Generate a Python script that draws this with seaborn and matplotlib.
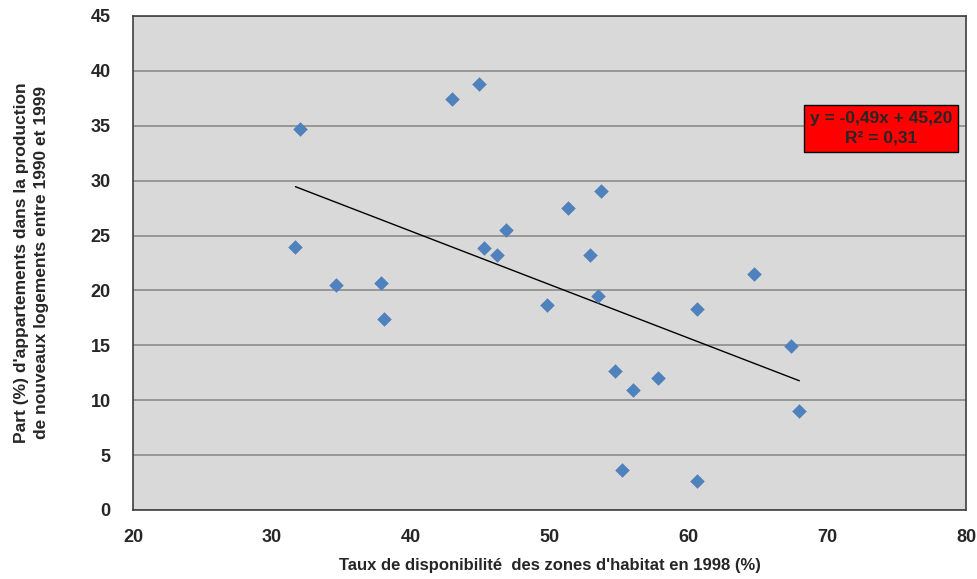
import numpy as np
import pandas as pd
import seaborn as sns
import matplotlib.pyplot as plt

# Taux de disponibilité (%) et part d'appartements (%)
taux_dispo = [31.7, 32.0, 34.6, 37.9, 38.1, 43.0, 44.9, 45.3, 46.2, 46.9, 49.8,
              51.3, 52.9, 53.5, 53.7, 54.7, 55.2, 56.0, 57.8, 60.6, 60.6, 64.7,
              67.4, 68.0]
part_appart = [24.0, 34.7, 20.5, 20.7, 17.4, 37.4, 38.8, 23.9, 23.2, 25.5, 18.7,
               27.5, 23.2, 19.5, 29.1, 12.7, 3.6, 10.9, 12.0, 18.3, 2.6, 21.5,
               14.9, 9.0]
x_ticks = [20, 30, 40, 50, 60, 70, 80]
y_ticks = [0, 5, 10, 15, 20, 25, 30, 35, 40, 45]
equation = "y = -0,49x + 45,20\nR² = 0,31"

df = pd.DataFrame({"Taux": taux_dispo, "Part": part_appart})

sns.set_style("white")
plt.rcParams['font.family'] = ['Liberation Sans Narrow', 'Liberation Sans', 'DejaVu Sans']

fig = plt.figure(figsize=(9.77, 5.79), dpi=100)
ax = fig.add_axes([0.1361, 0.1192, 0.8526, 0.8532])
ax.set_facecolor("#D9D9D9")

# courbe de tendance linéaire
sns.regplot(data=df, x="Taux", y="Part", scatter=False, ci=None, truncate=True,
            line_kws={"color": "black", "lw": 1}, ax=ax)
sns.scatterplot(data=df, x="Taux", y="Part", marker="D", s=55, color="#4F81BD",
                edgecolor="#4F81BD", linewidth=0, ax=ax, zorder=3)

ax.set_xlim(20, 80)
ax.set_ylim(0, 45)
ax.set_xticks(x_ticks)
ax.set_yticks(y_ticks)
ax.yaxis.grid(True, color="#8C8C8C", lw=1.2)
ax.set_axisbelow(True)
ax.tick_params(length=0, labelsize=13)
ax.tick_params(axis="y", pad=16)
ax.tick_params(axis="x", pad=14)
for lab in ax.get_xticklabels() + ax.get_yticklabels():
    lab.set_fontweight("bold")
for sp in ax.spines.values():
    sp.set_color("#404040")
    sp.set_linewidth(1.2)

ax.set_xlabel("Taux de disponibilité  des zones d'habitat en 1998 (%)",
              fontsize=12, fontweight="bold", labelpad=8)
ax.set_ylabel("Part (%) d'appartements dans la production\nde nouveaux logements entre 1990 et 1999",
              fontsize=12.5, fontweight="bold", labelpad=30, linespacing=1.45)

ax.text(0.898, 0.773, equation, transform=ax.transAxes, ha="center", va="center",
        fontsize=12.5, fontweight="bold", linespacing=1.4,
        bbox=dict(boxstyle="square,pad=0.35", facecolor="#FF0000", edgecolor="black", lw=1))

fig.savefig("out.png", dpi=100)
